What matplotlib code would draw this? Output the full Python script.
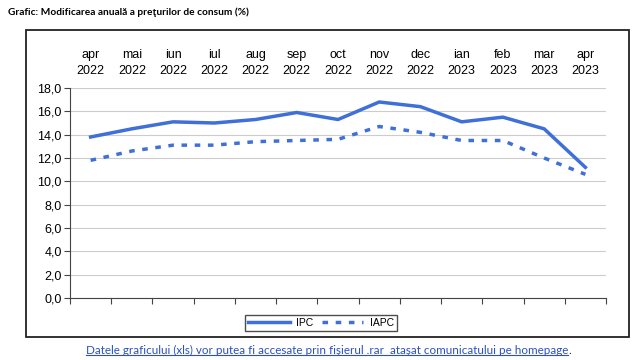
import matplotlib.pyplot as plt
from matplotlib.patches import Rectangle
from matplotlib.lines import Line2D

months = ['apr\n2022', 'mai\n2022', 'iun\n2022', 'iul\n2022', 'aug\n2022', 'sep\n2022', 'oct\n2022',
          'nov\n2022', 'dec\n2022', 'ian\n2023', 'feb\n2023', 'mar\n2023', 'apr\n2023']
ipc = [13.8, 14.5, 15.1, 15.0, 15.3, 15.9, 15.3, 16.8, 16.4, 15.1, 15.5, 14.5, 11.2]
iapc = [11.8, 12.6, 13.1, 13.1, 13.4, 13.5, 13.6, 14.7, 14.2, 13.5, 13.5, 12.0, 10.6]
yticks = [0, 2, 4, 6, 8, 10, 12, 14, 16, 18]

blue = '#3f6fd8'
link = '#2b4fc4'
W, H = 640, 360
fig = plt.figure(figsize=(W / 100, H / 100), dpi=100)
plt.rcParams['font.family'] = ['Liberation Sans', 'DejaVu Sans']

# outer frame
fig.patches.append(Rectangle((26 / W, 1 - 337 / H), (629 - 26) / W, (337 - 30) / H,
                             transform=fig.transFigure, fill=False, lw=1.3, ec='#222222'))

ax = fig.add_axes([70 / W, 1 - 298 / H, (606 - 70) / W, (298 - 88) / H])
x = range(len(months))
ax.plot(x, ipc, color=blue, lw=2.5, label='IPC')
ax.plot(x, iapc, color=blue, lw=2.5, ls=(0, (1.6, 2.2)), label='IAPC')

ax.set_xlim(-0.5, len(months) - 0.5)
ax.set_ylim(0, 18)
ax.set_yticks(yticks)
ax.set_yticklabels([('%.1f' % v).replace('.', ',') for v in yticks], fontsize=9)
ax.grid(axis='y', color='#cccccc', lw=0.8)
ax.set_axisbelow(True)

ax.set_xticks([i - 0.5 for i in range(len(months) + 1)])
ax.set_xticklabels([])
ax.tick_params(axis='x', direction='out', length=4, color='#444444')
ax.tick_params(axis='y', direction='out', length=4, color='#444444', pad=2)
for s in ['top', 'right']:
    ax.spines[s].set_visible(False)
ax.spines['left'].set_color('#444444')
ax.spines['bottom'].set_color('#444444')

for i, m in enumerate(months):
    ax.text(i, 18.95, m, ha='center', va='bottom', fontsize=9, linespacing=1.4,
            transform=ax.transData, clip_on=False)

leg = fig.legend(loc='center', bbox_to_anchor=(321 / W, 1 - 323 / H), ncol=2, fontsize=7.5,
                 frameon=True, fancybox=False, edgecolor='#222222', handlelength=4,
                 columnspacing=0.8, handletextpad=0.6, borderpad=0.3)
leg.get_frame().set_linewidth(1.0)

fig.text(8 / W, 1 - 12 / H, 'Grafic: Modificarea anuală a preţurilor de consum (%)',
         fontsize=7.3, fontweight='bold', family=['Lato', 'DejaVu Sans'], va='center')
foot = fig.text(86 / W, 1 - 350 / H,
                'Datele graficului (xls) vor putea fi accesate prin fişierul .rar  ataşat comunicatului pe homepage',
                fontsize=8.35, color=link, family=['Lato', 'DejaVu Sans'], ha='left', va='center')

fig.canvas.draw()
bb = foot.get_window_extent()
fig.add_artist(Line2D([bb.x0, bb.x1], [bb.y0 + 1, bb.y0 + 1], color=link, lw=0.8,
                      transform=None))
fig.text(bb.x1 / W, 1 - 350 / H, '.', fontsize=8.35, color='#222222',
         family=['Lato', 'DejaVu Sans'], ha='left', va='center')

plt.savefig('out.png', dpi=100)
